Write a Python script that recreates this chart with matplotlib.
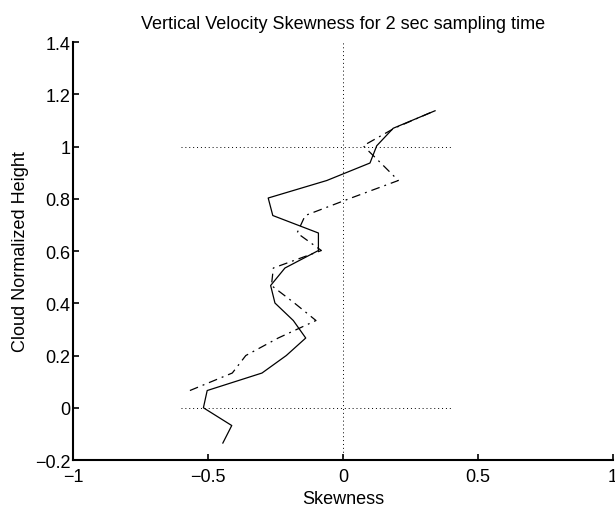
"""
Vertical velocity skewness profile, 2 sec sampling time
"""

import numpy as np
import matplotlib
matplotlib.use("Agg")
import matplotlib.pyplot as plt

# Data
height_solid = [-0.135, -0.068, 0.0, 0.066, 0.133, 0.2, 0.267, 0.334, 0.401, 0.468,
                0.535, 0.602, 0.669, 0.736, 0.803, 0.870, 0.937, 1.003, 1.070, 1.137]
skew_solid = [-0.445, -0.412, -0.517, -0.503, -0.30, -0.21, -0.138, -0.184, -0.252, -0.268,
              -0.215, -0.091, -0.091, -0.26, -0.277, -0.06, 0.10, 0.125, 0.186, 0.341]

height_dashdot = [0.066, 0.133, 0.2, 0.267, 0.334, 0.401, 0.468, 0.535, 0.602,
                  0.669, 0.736, 0.803, 0.870, 0.937, 1.003, 1.070, 1.137]
skew_dashdot = [-0.567, -0.41, -0.36, -0.24, -0.10, -0.18, -0.265, -0.258, -0.08,
                -0.17, -0.14, 0.03, 0.205, 0.14, 0.075, 0.19, 0.34]

ref_heights = [0, 1]
ref_span = [-0.6, 0.4]

xticks = [-1, -0.5, 0, 0.5, 1]
xticklabels = ["\u22121", "\u22120.5", "0", "0.5", "1"]
yticks = [-0.2, 0, 0.2, 0.4, 0.6, 0.8, 1, 1.2, 1.4]
yticklabels = ["\u22120.2", "0", "0.2", "0.4", "0.6", "0.8", "1", "1.2", "1.4"]

plt.rcParams["font.family"] = ["Liberation Sans", "DejaVu Sans"]
plt.rcParams["font.size"] = 13

fig = plt.figure(figsize=(6.15, 5.06), dpi=100)
ax = fig.add_axes([0.1187, 0.0889, 0.878, 0.826])

# reference dotted lines
ax.plot([0, 0], [-0.2, 1.4], color="black", linestyle=(0, (1, 3)), linewidth=0.7)
for h in ref_heights:
    ax.plot(ref_span, [h, h], color="black", linestyle=(0, (1, 3)), linewidth=0.7)

ax.plot(skew_solid, height_solid, color="black", linewidth=0.9)
ax.plot(skew_dashdot, height_dashdot, color="black", linewidth=0.9,
        linestyle=(0, (7, 4, 1.5, 4)))

ax.set_xlim(-1, 1)
ax.set_ylim(-0.2, 1.4)
ax.set_xticks(xticks)
ax.set_xticklabels(xticklabels)
ax.set_yticks(yticks)
ax.set_yticklabels(yticklabels)
ax.tick_params(direction="in", length=4, width=1.2, labelsize=13)
ax.tick_params(axis="x", pad=6)
ax.tick_params(axis="y", pad=2)

ax.spines["top"].set_visible(False)
ax.spines["right"].set_visible(False)
ax.spines["left"].set_linewidth(1.5)
ax.spines["bottom"].set_linewidth(1.5)

ax.set_xlabel("Skewness", fontsize=13, labelpad=3)
ax.set_ylabel("Cloud Normalized Height", fontsize=13, labelpad=4)
ax.set_title("Vertical Velocity Skewness for 2 sec sampling time", fontsize=13, pad=10)

fig.savefig("out.png", dpi=100)
